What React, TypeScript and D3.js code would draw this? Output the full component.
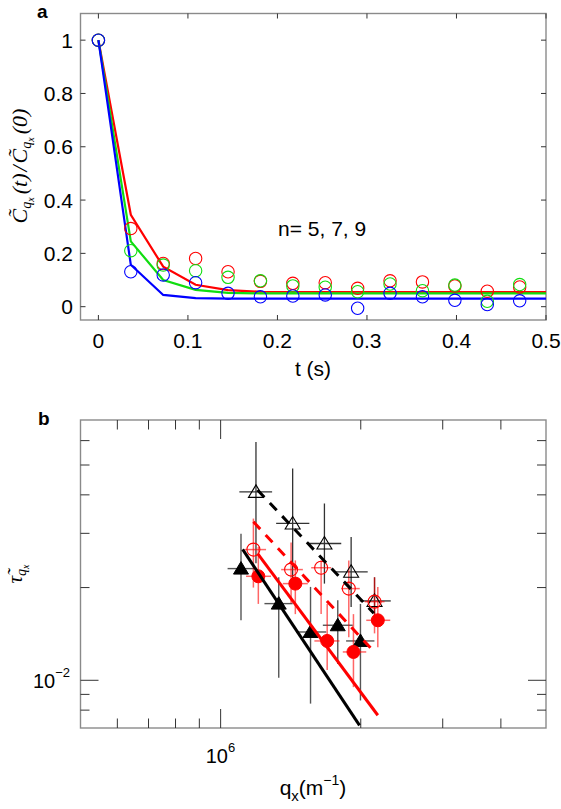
import React from 'react';
import * as d3 from 'd3';

// ---------- Panel a data ----------
const tData = [0, 0.0362, 0.0724, 0.1086, 0.1448, 0.181, 0.2172, 0.2534, 0.2896, 0.3258, 0.362, 0.3982, 0.4344, 0.4706];
const redPts = [1, 0.293, 0.162, 0.181, 0.131, 0.095, 0.0875, 0.09, 0.069, 0.097, 0.093, 0.078, 0.058, 0.074];
const greenPts = [1, 0.21, 0.156, 0.135, 0.11, 0.097, 0.078, 0.073, 0.056, 0.085, 0.06, 0.081, 0.02, 0.083];
const bluePts = [1, 0.131, 0.119, 0.09, 0.05, 0.037, 0.04, 0.044, -0.006, 0.05, 0.037, 0.024, 0.008, 0.022];

const fitT = [0, 0.0362, 0.0724, 0.1086, 0.1448, 0.181, 0.5];
const redFit = [1, 0.345, 0.15, 0.082, 0.062, 0.056, 0.055];
const greenFit = [1, 0.245, 0.1, 0.063, 0.052, 0.05, 0.05];
const blueFit = [1, 0.157, 0.044, 0.032, 0.03, 0.03, 0.03];

const xTicksA = [0, 0.1, 0.2, 0.3, 0.4, 0.5];
const xTickLabelsA = ['0', '0.1', '0.2', '0.3', '0.4', '0.5'];
const yTicksA = [0, 0.2, 0.4, 0.6, 0.8, 1];
const yTickLabelsA = ['0', '0.2', '0.4', '0.6', '0.8', '1'];

// ---------- Panel b data ----------
const openTriQ = [1.191e6, 1.428e6, 1.671e6, 1.907e6, 2.141e6];
const openTriTau = [0.0409, 0.0323, 0.0278, 0.0225, 0.0181];
const openTriQLo = [1.097e6, 1.316e6, 1.538e6, 1.757e6, 1.99e6];
const openTriQHi = [1.29e6, 1.551e6, 1.816e6, 2.07e6, 2.32e6];
const openTriTauLo = [0.024, 0.0214, 0.0206, 0.0173, 0.0151];
const openTriTauHi = [0.0594, 0.0487, 0.0375, 0.0292, 0.0216];

const filledTriQ = [1.106e6, 1.333e6, 1.56e6, 1.785e6, 1.997e6];
const filledTriTau = [0.02305, 0.01774, 0.01435, 0.01509, 0.01342];
const filledTriQLo = [1.035e6, 1.242e6, 1.453e6, 1.658e6, 1.86e6];
const filledTriQHi = [1.18e6, 1.428e6, 1.686e6, 1.922e6, 2.14e6];
const filledTriTauLo = [0.01566, 0.0102, 0.0084, 0.0113, 0.0086];
const filledTriTauHi = [0.0299, 0.0216, 0.0201, 0.0182, 0.0177];

const openCircQ = [1.176e6, 1.417e6, 1.644e6, 1.885e6, 2.141e6];
const openCircTau = [0.02657, 0.02288, 0.0232, 0.01985, 0.018];
const openCircQLo = [1.125e6, 1.349e6, 1.565e6, 1.815e6, 2.04e6];
const openCircQHi = [1.252e6, 1.502e6, 1.728e6, 1.99e6, 2.25e6];
const openCircTauLo = [0.02, 0.0178, 0.0164, 0.0138, 0.0142];
const openCircTauHi = [0.0335, 0.028, 0.0245, 0.0245, 0.0216];

const filledCircQ = [1.205e6, 1.447e6, 1.694e6, 1.929e6, 2.176e6];
const filledCircTau = [0.02176, 0.0206, 0.01342, 0.01236, 0.01566];
const filledCircQLo = [1.134e6, 1.36e6, 1.59e6, 1.83e6, 2.055e6];
const filledCircQHi = [1.283e6, 1.539e6, 1.8e6, 2.055e6, 2.314e6];
const filledCircTauLo = [0.0177, 0.0164, 0.0108, 0.0095, 0.0128];
const filledCircTauHi = [0.0271, 0.0245, 0.0177, 0.0164, 0.0201];

const blackSolidQ = [1.115e6, 1.988e6];
const blackSolidTau = [0.0266, 0.00714];
const redSolidQ = [1.201e6, 2.176e6];
const redSolidTau = [0.02577, 0.0077];
const redDashQ = [1.176e6, 2.106e6];
const redDashTau = [0.0327, 0.01267];
const blackDashQ = [1.2e6, 2.133e6];
const blackDashTau = [0.0415, 0.0165];

const xTicksB = [6e5, 7e5, 8e5, 9e5, 1e6, 2e6, 3e6, 4e6];
const yTicksB = [8e-3, 9e-3, 1e-2, 2e-2, 3e-2, 4e-2, 5e-2, 6e-2];

const RED = '#ff0000';
const GREEN = '#10dd10';
const BLUE = '#0000ff';
const AXIS = '#8a8a8a';
const TICK = '#333';

export default function App() {
  // panel a
  const aL = 80.5, aR = 546, aT = 13.5, aB = 320;
  const xA = d3.scaleLinear().domain([-0.02, 0.5]).range([aL, aR]);
  const yA = d3.scaleLinear().domain([-0.05, 1.1]).range([aB, aT]);
  const lineA = d3.line<number>().x((_, i) => xA(fitT[i])).y((d) => yA(d));

  // panel b
  const bL = 80.5, bR = 546, bT = 420, bB = 728;
  const xB = d3.scaleLog().domain([5e5, 5e6]).range([bL, bR]);
  const yB = d3.scaleLog().domain([7e-3, 7e-2]).range([bB, bT]);
  const lineB = (qs: number[], ts: number[]) =>
    d3.line<number>().x((q) => xB(q)).y((_, i) => yB(ts[i]))(qs) || '';

  const tri = (cx: number, cy: number) =>
    `M${cx},${cy - 7} L${cx + 7.5},${cy + 5.5} L${cx - 7.5},${cy + 5.5} Z`;

  const errBars = (q: number[], t: number[], qLo: number[], qHi: number[], tLo: number[], tHi: number[], color: string, w: number) =>
    q.map((qq, i) => (
      <g key={i} stroke={color} strokeWidth={w}>
        <line x1={xB(qq)} x2={xB(qq)} y1={yB(tLo[i])} y2={yB(tHi[i])} />
        <line x1={xB(qLo[i])} x2={xB(qHi[i])} y1={yB(t[i])} y2={yB(t[i])} />
      </g>
    ));

  const series = [
    { pts: redPts, fit: redFit, c: RED },
    { pts: greenPts, fit: greenFit, c: GREEN },
    { pts: bluePts, fit: blueFit, c: BLUE },
  ];

  return (
    <svg width={561} height={809} style={{ position: 'absolute', left: 0, top: 0, background: '#fff' }}
      fontFamily="'Liberation Sans', Arial, sans-serif">
      {/* ================= Panel a ================= */}
      <text x={37} y={18} fontSize={19} fontWeight="bold">a</text>
      <rect x={aL} y={aT} width={aR - aL} height={aB - aT} fill="none" stroke={AXIS} strokeWidth={1.4} />
      {xTicksA.map((t, i) => (
        <g key={'xa' + i}>
          <line x1={xA(t)} x2={xA(t)} y1={aB} y2={aB - 5} stroke={TICK} strokeWidth={1} />
          <line x1={xA(t)} x2={xA(t)} y1={aT} y2={aT + 5} stroke={TICK} strokeWidth={1} />
          <text x={xA(t)} y={348} fontSize={21} textAnchor="middle">{xTickLabelsA[i]}</text>
        </g>
      ))}
      {yTicksA.map((v, i) => (
        <g key={'ya' + i}>
          <line x1={aL} x2={aL + 5} y1={yA(v)} y2={yA(v)} stroke={TICK} strokeWidth={1} />
          <line x1={aR} x2={aR - 5} y1={yA(v)} y2={yA(v)} stroke={TICK} strokeWidth={1} />
          <text x={73} y={yA(v) + 7.5} fontSize={21} textAnchor="end">{yTickLabelsA[i]}</text>
        </g>
      ))}
      {series.map((s, k) => (
        <path key={'fit' + k} d={lineA(s.fit) || ''} fill="none" stroke={s.c} strokeWidth={2.2} />
      ))}
      {series.map((s, k) => (
        <g key={'pts' + k}>
          {s.pts.map((v, i) => (
            <circle key={i} cx={xA(tData[i])} cy={yA(v)} r={6.2} fill="none" stroke={s.c} strokeWidth={1.1} />
          ))}
        </g>
      ))}
      <text x={278} y={236} fontSize={21}>n= 5, 7, 9</text>
      <text x={313} y={376} fontSize={21} textAnchor="middle">t (s)</text>
      <text transform="translate(27,166) rotate(-90)" textAnchor="middle"
        fontFamily="'Liberation Serif', 'DejaVu Serif', serif" fontStyle="italic" fontSize={22}>
        <tspan>C&#771;</tspan>
        <tspan fontSize={14} dy={4}>q</tspan>
        <tspan fontSize={10} dy={3}>x</tspan>
        <tspan dy={-7} dx={3}>(t)</tspan>
        <tspan dx={2}>/</tspan>
        <tspan dx={2}>C&#771;</tspan>
        <tspan fontSize={14} dy={4}>q</tspan>
        <tspan fontSize={10} dy={3}>x</tspan>
        <tspan dy={-7} dx={3}>(0)</tspan>
      </text>

      {/* ================= Panel b ================= */}
      <text x={38} y={425} fontSize={19} fontWeight="bold">b</text>
      <rect x={bL} y={bT} width={bR - bL} height={bB - bT} fill="none" stroke={AXIS} strokeWidth={1.4} />
      {xTicksB.map((q, i) => {
        const len = q === 1e6 ? 19 : 9.5;
        return (
          <g key={'xb' + i}>
            <line x1={xB(q)} x2={xB(q)} y1={bB} y2={bB - len} stroke={TICK} strokeWidth={1} />
            <line x1={xB(q)} x2={xB(q)} y1={bT} y2={bT + len} stroke={TICK} strokeWidth={1} />
          </g>
        );
      })}
      {yTicksB.map((v, i) => {
        const len = v === 1e-2 ? 18 : 9;
        return (
          <g key={'yb' + i}>
            <line x1={bL} x2={bL + len} y1={yB(v)} y2={yB(v)} stroke={TICK} strokeWidth={1} />
            <line x1={bR} x2={bR - len} y1={yB(v)} y2={yB(v)} stroke={TICK} strokeWidth={1} />
          </g>
        );
      })}
      <text x={xB(1e6) - 15} y={763} fontSize={20}>
        10<tspan fontSize={13} dy={-11}>6</tspan>
      </text>
      <text x={33} y={688} fontSize={20}>
        10<tspan fontSize={13} dy={-11}>−2</tspan>
      </text>
      <text x={313} y={795} fontSize={21} textAnchor="middle">
        q<tspan fontSize={15} dy={6}>x</tspan><tspan dy={-6}>(m</tspan><tspan fontSize={14} dy={-10}>−1</tspan><tspan dy={10}>)</tspan>
      </text>
      <text transform="translate(22,574) rotate(-90)" textAnchor="middle"
        fontFamily="'Liberation Serif', 'DejaVu Serif', serif" fontStyle="italic" fontSize={21}>
        <tspan>τ&#771;</tspan>
        <tspan fontSize={14} dy={4}>q</tspan>
        <tspan fontSize={10} dy={3}>x</tspan>
      </text>

      {/* error bars */}
      {errBars(filledTriQ, filledTriTau, filledTriQLo, filledTriQHi, filledTriTauLo, filledTriTauHi, '#555', 1.4)}
      {errBars(openTriQ, openTriTau, openTriQLo, openTriQHi, openTriTauLo, openTriTauHi, '#333', 1.3)}
      {errBars(openCircQ, openCircTau, openCircQLo, openCircQHi, openCircTauLo, openCircTauHi, 'rgba(255,0,0,0.6)', 1.5)}
      {errBars(filledCircQ, filledCircTau, filledCircQLo, filledCircQHi, filledCircTauLo, filledCircTauHi, 'rgba(255,0,0,0.6)', 1.5)}

      {/* markers */}
      {openTriQ.map((q, i) => (
        <path key={'ot' + i} d={tri(xB(q), yB(openTriTau[i]))} fill="none" stroke="#000" strokeWidth={1.1} />
      ))}
      {filledTriQ.map((q, i) => (
        <path key={'ft' + i} d={tri(xB(q), yB(filledTriTau[i]))} fill="#000" stroke="#000" strokeWidth={1} />
      ))}
      {openCircQ.map((q, i) => (
        <circle key={'oc' + i} cx={xB(q)} cy={yB(openCircTau[i])} r={6.5} fill="none" stroke={RED} strokeWidth={1.1} />
      ))}
      {filledCircQ.map((q, i) => (
        <circle key={'fc' + i} cx={xB(q)} cy={yB(filledCircTau[i])} r={6.5} fill={RED} stroke={RED} strokeWidth={1} />
      ))}

      {/* fit lines */}
      <path d={lineB(blackSolidQ, blackSolidTau)} stroke="#000" strokeWidth={3} fill="none" />
      <path d={lineB(redSolidQ, redSolidTau)} stroke={RED} strokeWidth={3} fill="none" />
      <path d={lineB(redDashQ, redDashTau)} stroke={RED} strokeWidth={3} fill="none" strokeDasharray="10 8" />
      <path d={lineB(blackDashQ, blackDashTau)} stroke="#000" strokeWidth={3} fill="none" strokeDasharray="10 8" />
    </svg>
  );
}
